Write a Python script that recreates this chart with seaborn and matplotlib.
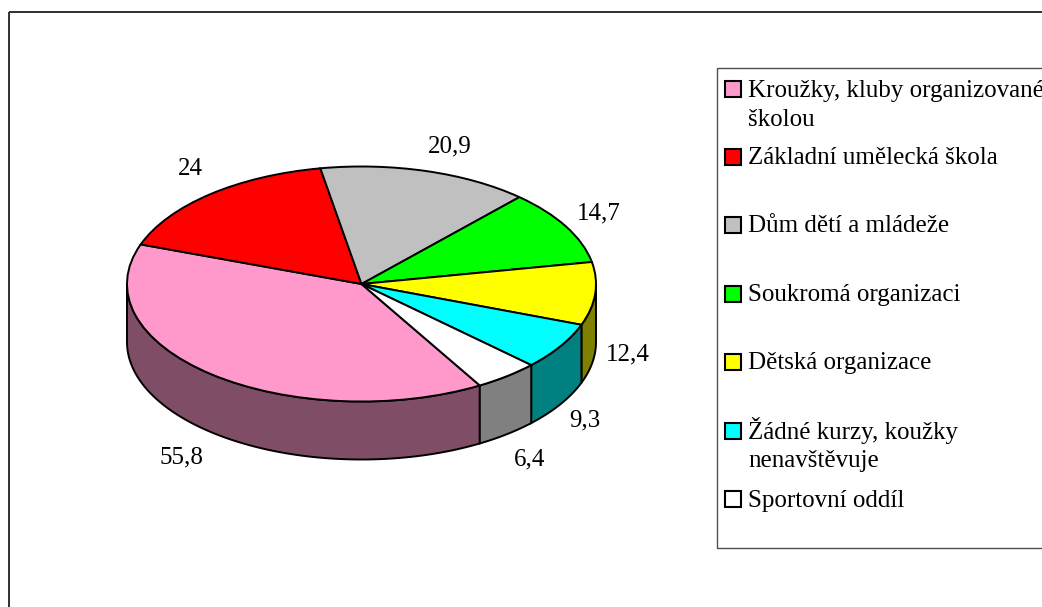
import matplotlib
matplotlib.use("Agg")
import matplotlib.pyplot as plt
import numpy as np
import seaborn as sns
from matplotlib.patches import Rectangle

labels = [
    "Kroužky, kluby organizované\nškolou",
    "Základní umělecká škola",
    "Dům dětí a mládeže",
    "Soukromá organizaci",
    "Dětská organizace",
    "Žádné kurzy, koužky\nnenavštěvuje",
    "Sportovní oddíl",
]
values = [55.8, 24, 20.9, 14.7, 12.4, 9.3, 6.4]
top_colors = ["#FF99CC", "#FF0000", "#C0C0C0", "#00FF00", "#FFFF00", "#00FFFF", "#FFFFFF"]
side_colors = ["#804D66", "#800000", "#606060", "#008000", "#808000", "#008080", "#808080"]

W, H = 1042, 607
CX, CY, RX, RY = 361.5, 284.0, 234.5, 117.5
DEPTH = 58
START = 300.3

# value label positions (centre x, baseline y), pixels
label_xy = [(181, 463), (190, 175), (450, 152), (599, 219), (628, 360), (585, 426), (529.5, 465)]
legend_y = [89, 157, 225, 294, 362, 431, 499]

sns.set_theme(style="white")
plt.rcParams["font.family"] = ["Liberation Serif", "DejaVu Serif"]
FS = 18
LW = 1.4

fig = plt.figure(figsize=(W / 100, H / 100), dpi=100, facecolor="white")
ax = fig.add_axes([0, 0, 1, 1])

wedges, _ = ax.pie(
    values,
    colors=sns.color_palette(top_colors),
    startangle=START,
    counterclock=False,
    center=(CX, 0),
    radius=RX,
    wedgeprops={"edgecolor": "black", "linewidth": LW, "zorder": 3},
)

# the pie is flattened through the y limits, one y unit = RY/RX pixels
scale = RY / RX
ax.set_aspect("auto")
ax.set_xlim(0, W)
ax.set_ylim((CY - H) / scale, CY / scale)
ax.axis("off")

# rim of the disc, only the part facing the viewer
drop = DEPTH / scale
for wedge, color in zip(wedges, side_colors):
    for lo, hi in [(wedge.theta1, wedge.theta2), (wedge.theta1 - 360, wedge.theta2 - 360), (wedge.theta1 + 360, wedge.theta2 + 360)]:
        a, b = max(lo, 180), min(hi, 360)
        if b <= a:
            continue
        t = np.radians(np.linspace(a, b, 120))
        x = CX + RX * np.cos(t)
        y = RX * np.sin(t)
        ax.fill(
            np.r_[x, x[::-1]], np.r_[y, y[::-1] - drop],
            facecolor=color, edgecolor="black", linewidth=LW, zorder=2,
        )

# overlay in pixel coordinates for frame, legend and text
ov = fig.add_axes([0, 0, 1, 1], facecolor="none")
ov.set_xlim(0, W)
ov.set_ylim(H, 0)
ov.axis("off")

ov.add_patch(Rectangle((9, 12), W + 20, H + 20, facecolor="none", edgecolor="#303030", linewidth=1.4, zorder=1))
ov.add_patch(Rectangle((717, 68), W, 479.5, facecolor="white", edgecolor="#505050", linewidth=1.0, zorder=2))

for v, (x, y) in zip(values, label_xy):
    ov.text(x, y, f"{v:g}".replace(".", ","), ha="center", va="baseline", fontsize=FS, color="black")

for name, color, y in zip(labels, top_colors, legend_y):
    ov.add_patch(Rectangle((725, y - 8), 16, 16, facecolor=color, edgecolor="black", linewidth=1.5, zorder=3))
    for i, line in enumerate(name.split("\n")):
        ov.text(748, y + 7.5 + 29 * i, line, ha="left", va="baseline", fontsize=FS, color="black", zorder=3)

fig.savefig("out.png", dpi=100)
